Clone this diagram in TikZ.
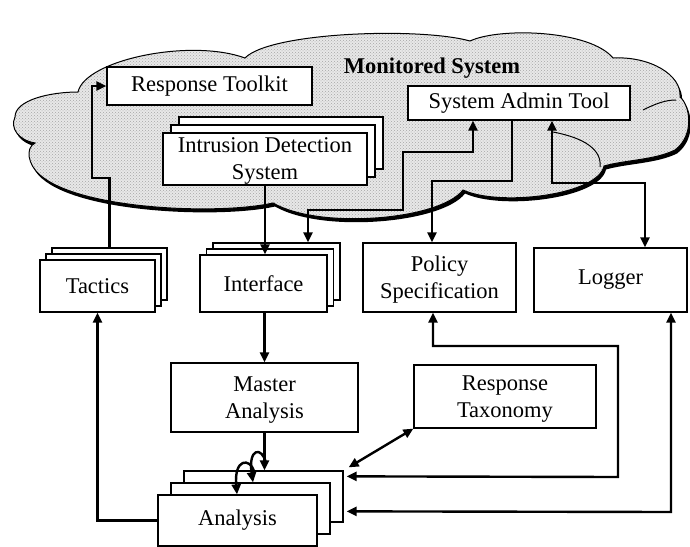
\documentclass[tikz,border=0pt]{standalone}
\usepackage{fontspec}
\setmainfont{Liberation Serif}
\usetikzlibrary{arrows.meta,patterns}
\def\cloudpath{(15,117) .. controls (15,100) and (50,92) .. (78,92)
 .. controls (85,60) and (190,38) .. (245,58)
 .. controls (270,32) and (420,27) .. (470,41)
 .. controls (500,27) and (590,30) .. (613,58)
 .. controls (650,56) and (682,75) .. (680,97)
 .. controls (690,105) and (695,135) .. (675,150)
 .. controls (655,160) and (625,160) .. (604,166)
 .. controls (598,195) and (500,207) .. (463,190)
 .. controls (440,220) and (320,230) .. (273,203)
 .. controls (220,215) and (80,210) .. (40,175)
 .. controls (28,165) and (25,148) .. (35,143)
 .. controls (18,140) and (10,128) .. (15,117) -- cycle}
\begin{document}
\begin{tikzpicture}[x=1pt,y=-1pt,
  box/.style={draw, line width=1.3pt, fill=white, inner sep=0pt, align=center,
    font=\fontsize{22.5}{27}\selectfont},
  tdown/.style={text depth=-3pt},
  arr/.style={line width=2.4pt, -{Triangle[length=10pt,width=9pt]}},
  dbl/.style={line width=2.4pt, {Triangle[length=10pt,width=9pt]}-{Triangle[length=10pt,width=9pt]}},
  inner/.style={line width=1pt}]
\useasboundingbox (0,0) rectangle (690,546);
% cloud
\fill[black] [shift={(2,3.5)}] \cloudpath;
\fill[black!9] \cloudpath;
\fill[pattern=crosshatch dots, pattern color=black!35] \cloudpath;
\draw[line width=1pt] \cloudpath;
\draw[inner] (553,132) .. controls (585,138) and (602,150) .. (600,167);
\draw[inner] (643,110) .. controls (655,104) and (665,100) .. (676,100);
\node[font=\bfseries\fontsize{22.5}{27}\selectfont] (ms) at (432,68) {Monitored System};
% boxes in the cloud
\node[box, minimum width=205, minimum height=38] (rt) at (209.5,86) {Response Toolkit};
\node[box, minimum width=222, minimum height=34] (sat) at (519,103) {System Admin Tool};
\node[box, minimum width=204, minimum height=52] (ids2) at (281,143) {};
\node[box, minimum width=204, minimum height=52] (ids1) at (273,151) {};
\node[box, tdown, minimum width=204, minimum height=52] (ids) at (265,159) {Intrusion Detection\\System};
% middle row
\node[box, minimum width=115, minimum height=52] (tac2) at (109.5,274) {};
\node[box, minimum width=115, minimum height=52] (tac1) at (103.5,280) {};
\node[box, minimum width=115, minimum height=52] (tac) at (97.5,286) {Tactics};
\node[box, minimum width=127, minimum height=57] (iface2) at (276.5,271.5) {};
\node[box, minimum width=127, minimum height=57] (iface1) at (270,277.5) {};
\node[box, minimum width=127, minimum height=57] (iface) at (263.5,283.5) {Interface};
\node[box, tdown, minimum width=153, minimum height=69] (pol) at (439.5,277.5) {Policy\\Specification};
\node[box, minimum width=153, minimum height=64] (log) at (610.5,280) {Logger};
% lower boxes
\node[box, tdown, minimum width=187, minimum height=69] (master) at (264.5,397.5) {Master\\Analysis};
\node[box, tdown, minimum width=182, minimum height=63] (tax) at (505,396.5) {Response\\Taxonomy};
\node[box, minimum width=159, minimum height=51] (an2) at (263.5,496.5) {};
\node[box, minimum width=159, minimum height=51] (an1) at (250.5,508.5) {};
\node[box, minimum width=159, minimum height=51] (an) at (237.5,520.5) {Analysis};
% connectors
\draw[arr] (tac2.north) -- (tac2.north |- 0,178) -- (92,178) -- (92,86) -- (rt.west);
\draw[arr] (ids.south) -- (ids.south |- iface.north);
\draw[dbl] ([xshift=-46pt]sat.south) -- (473,152) -- (403,152) -- (403,210) -- (308,210) -- ([xshift=31.5pt]iface2.north);
\draw[arr] ([xshift=-7pt]sat.south) -- (512,181) -- (432,181) -- ([xshift=-7.5pt]pol.north);
\draw[dbl] ([xshift=33pt]sat.south) -- (552,183) -- (645,183) -- ([xshift=34.5pt]log.north);
\draw[arr] (master.north |- iface.south) -- (master.north);
\draw[arr] (master.south) -- (master.south |- an2.north);
\coordinate (sq1) at (266,463);
\coordinate (sq2) at (254,471);
\draw[arr] (sq1) .. controls (262,446) and (248,448) .. ([xshift=2.5pt]an1.north);
\draw[arr] (sq2) .. controls (250,458) and (234,458) .. ([xshift=-0.5pt]an.north);
\draw[dbl] (tax.south west) -- ([shift={(5pt,3pt)}]an2.north east);
\draw[dbl] ([xshift=-6.5pt]pol.south) -- (433,346) -- (618,346) -- (618,477) -- ([shift={(3pt,-6pt)}]an2.north east);
\draw[dbl] ([xshift=60.5pt]log.south) -- (671,512) -- ([shift={(3pt,-41pt)}]an2.north east);
\draw[arr] (an.west) -| (tac.south);
\end{tikzpicture}
\end{document}
